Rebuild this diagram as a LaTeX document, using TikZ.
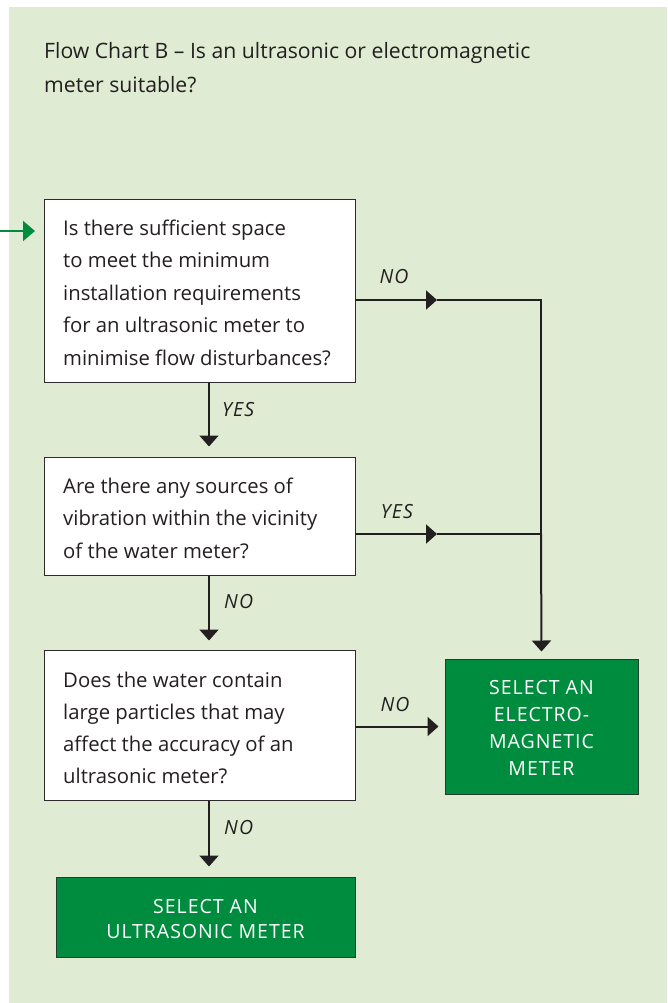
\documentclass[tikz,border=0pt]{standalone}
\usepackage{fontspec}
\setmainfont{Open Sans}
\usetikzlibrary{arrows.meta}
\definecolor{bggreen}{HTML}{DFEBD3}
\definecolor{boxgreen}{HTML}{008C3E}
\definecolor{edgegray}{HTML}{2B2B2B}
\definecolor{ink}{HTML}{231F20}
\begin{document}
\begin{tikzpicture}[x=1pt,y=-1pt,
  qbox/.style={draw=edgegray, line width=1pt, fill=white, inner sep=0pt, minimum width=311pt},
  gbox/.style={draw=edgegray!80!boxgreen, line width=1pt, fill=boxgreen, inner sep=0pt},
  qtext/.style={anchor=base west, inner sep=0pt, align=left, text=ink, font=\fontsize{20.3}{32.5}\selectfont},
  gtext/.style={anchor=base, inner sep=0pt, align=center, text=white},
  lab/.style={inner sep=0pt, text=ink, font=\fontsize{19.5}{20}\selectfont\itshape\addfontfeature{LetterSpace=6}},
  conn/.style={draw=ink, line width=2pt},
  arr/.style={conn, -{Triangle[length=11pt,width=19pt]}},
]
\useasboundingbox (0,0) rectangle (667,1003);
\fill[bggreen] (9,7) rectangle (667,1003);

% title (base anchor = last line)
\node[anchor=base west, inner sep=0pt, align=left, text=ink, font=\fontsize{21.2}{34}\selectfont] (title) at (44,93)
  {Flow Chart B -- Is an ultrasonic or electromagnetic\\meter suitable?};

% question boxes
\node[qbox, minimum height=183pt] (b1) at (199.5,290.5) {};
\node[qbox, minimum height=118pt] (b2) at (199.5,516) {};
\node[qbox, minimum height=150pt] (b3) at (199.5,725) {};
\node[qtext] (t1) at (63,365) {Is there sufficient space\\to meet the minimum\\installation requirements\\for an ultrasonic meter to\\minimise flow disturbances?};
\node[qtext] (t2) at (63,558) {Are there any sources of\\vibration within the vicinity\\of the water meter?};
\node[qtext, font=\fontsize{20.3}{32}\selectfont] (t3) at (63,783) {Does the water contain\\large particles that may\\affect the accuracy of an\\ultrasonic meter?};

% result boxes
\node[gbox, minimum width=193pt, minimum height=135pt] (e1) at (541.5,726.5) {};
\node[gtext, font=\fontsize{19.5}{26.7}\selectfont\addfontfeature{LetterSpace=5}] (te) at (541.5,775) {SELECT AN\\ELECTRO-\\MAGNETIC\\METER};
\node[gbox, minimum width=299pt, minimum height=80pt] (u1) at (205.5,917) {};
\node[gtext, font=\fontsize{19.5}{25}\selectfont\addfontfeature{LetterSpace=5}] (tu) at (205.5,938) {SELECT AN\\ULTRASONIC METER};

% entry arrow
\coordinate (in0) at (0,231);
\coordinate (in1) at (35,231);
\draw[draw=boxgreen, line width=2pt, -{Triangle[length=12pt,width=20pt]}] (in0) -- (in1);

% vertical flow
\coordinate (ax) at (209,0);
\draw[arr, shorten >=10pt] (b1.south -| ax) -- (b2.north -| ax);
\draw[arr, shorten >=9pt] (b2.south -| ax) -- (b3.north -| ax);
\draw[arr, shorten >=10pt] (b3.south -| ax) -- (u1.north -| ax);

% right side
\coordinate (j1) at (541,300);
\coordinate (m1) at (437,300);
\coordinate (j2) at (541,534);
\coordinate (m2) at (437,534);
\draw[arr] (b1.east |- m1) -- (m1);
\draw[conn] (m1) -- (j1) -- (j2);
\draw[arr, shorten >=7pt] (j2) -- (e1.north);
\draw[arr] (b2.east |- m2) -- (m2);
\draw[conn] (m2) -- (j2);
\draw[arr, shorten >=6pt] (b3.east |- e1) -- (e1.west);

% labels
\node[lab, anchor=west] (l1) at (222,410) {YES};
\node[lab, anchor=west] (l2) at (224,602) {NO};
\node[lab, anchor=west] (l3) at (224,828) {NO};
\node[lab] (l4) at (394,277) {NO};
\node[lab] (l5) at (397,512) {YES};
\node[lab] (l6) at (395,705) {NO};
\end{tikzpicture}
\end{document}
